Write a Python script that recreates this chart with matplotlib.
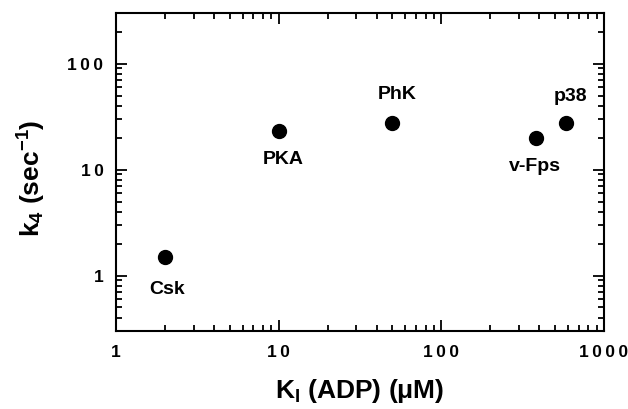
import matplotlib
matplotlib.use("Agg")
import matplotlib.pyplot as plt
from matplotlib.ticker import LogLocator, NullFormatter, FixedLocator, FixedFormatter

kinases = ["Csk", "PKA", "PhK", "v-Fps", "p38"]
ki_adp = [2.0, 10.0, 50.0, 380.0, 580.0]
k4 = [1.5, 23.0, 27.5, 20.0, 27.5]
x_ticks = [1, 10, 100, 1000]
y_ticks = [1, 10, 100]

plt.rcParams['font.family'] = ['Liberation Sans', 'DejaVu Sans']
plt.rcParams['font.weight'] = 'bold'
plt.rcParams['mathtext.fontset'] = 'custom'
plt.rcParams['mathtext.rm'] = 'Liberation Sans:bold'
plt.rcParams['mathtext.it'] = 'Liberation Sans:bold'
plt.rcParams['mathtext.bf'] = 'Liberation Sans:bold'
plt.rcParams['mathtext.default'] = 'bf'

fig = plt.figure(figsize=(6.28, 4.09), dpi=100)
ax = fig.add_axes([0.1847, 0.1907, 0.9618 - 0.1847, 0.968 - 0.1907])

ax.plot(ki_adp, k4, 'o', color='black', markersize=10, linestyle='none')

offsets = {"Csk": (2, -33), "PKA": (5, -28), "PhK": (5, 29), "v-Fps": (-1, -29), "p38": (5, 27)}
for name, x, y in zip(kinases, ki_adp, k4):
    ax.annotate(name, (x, y), xytext=offsets[name], textcoords='offset pixels',
                ha='center', va='center', fontsize=14, fontweight='bold')

ax.set_xscale('log')
ax.set_yscale('log')
ax.set_xlim(1, 1000)
ax.set_ylim(0.3, 300)

def spaced(v):
    return "\u2009".join(str(v))

ax.xaxis.set_major_locator(FixedLocator(x_ticks))
ax.xaxis.set_major_formatter(FixedFormatter([spaced(v) for v in x_ticks]))
ax.yaxis.set_major_locator(FixedLocator(y_ticks))
ax.yaxis.set_major_formatter(FixedFormatter([spaced(v) for v in y_ticks]))
ax.xaxis.set_minor_locator(LogLocator(base=10, subs=range(2, 10), numticks=20))
ax.yaxis.set_minor_locator(LogLocator(base=10, subs=range(2, 10), numticks=20))
ax.xaxis.set_minor_formatter(NullFormatter())
ax.yaxis.set_minor_formatter(NullFormatter())

ax.tick_params(which='both', direction='in', top=True, right=True, width=1.3, labelsize=12.5)
ax.tick_params(axis='y', pad=9)
ax.tick_params(axis='x', pad=10)
ax.tick_params(which='major', length=8)
ax.tick_params(which='minor', length=4)
for lab in ax.get_xticklabels() + ax.get_yticklabels():
    lab.set_fontweight('bold')
for s in ax.spines.values():
    s.set_linewidth(1.5)

ax.set_xlabel(r"K$_\mathbf{I}$ (ADP) ($\mu$M)", fontsize=19, fontweight='bold')
ax.set_ylabel(r"k$_\mathbf{4}$ (sec$^\mathbf{-1}$)", fontsize=19, fontweight='bold')
ax.xaxis.set_label_coords(0.5, -0.145)
ax.yaxis.set_label_coords(-0.14, 0.48)

fig.savefig("out.png", dpi=100)
